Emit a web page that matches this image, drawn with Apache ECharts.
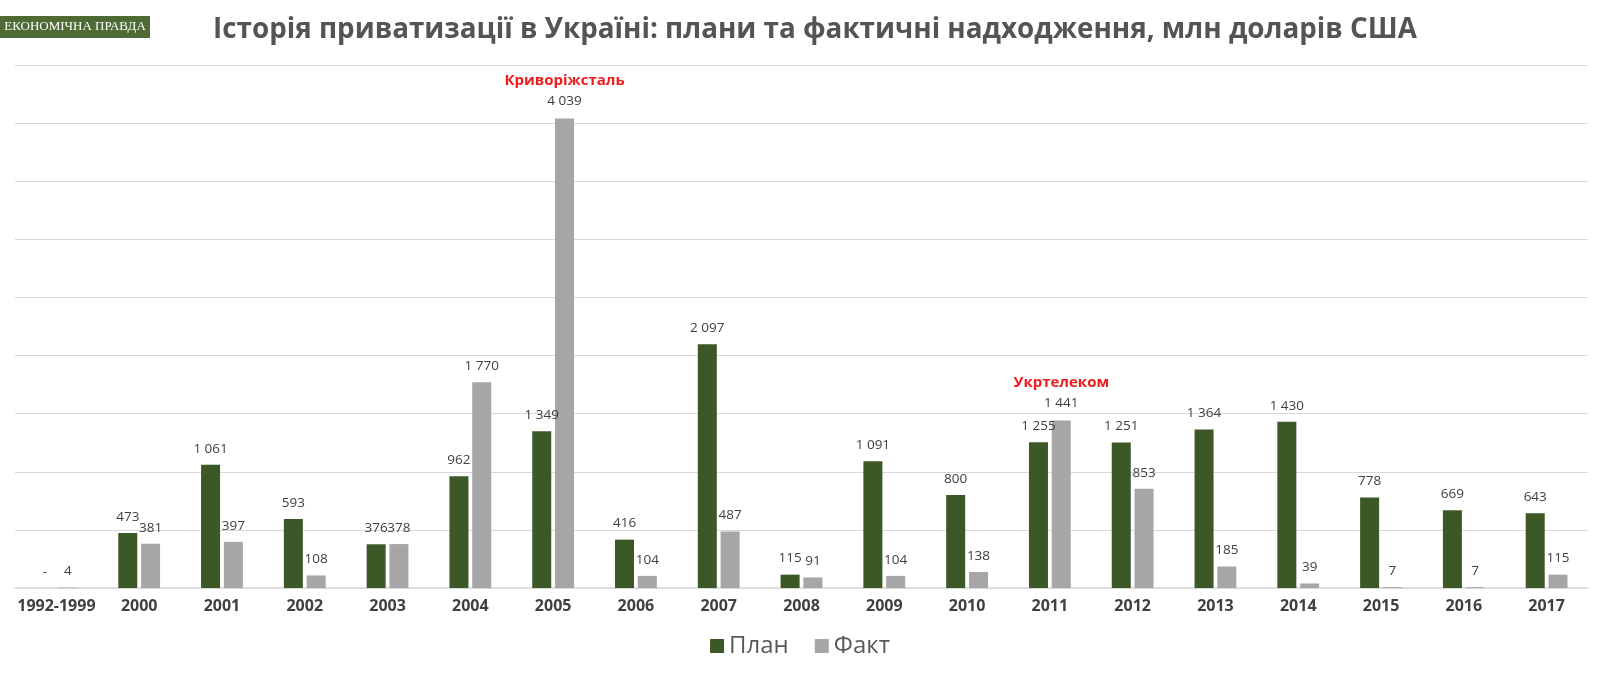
<!DOCTYPE html>
<html>
<head>
<meta charset="utf-8">
<script src="https://cdn.jsdelivr.net/npm/echarts@6/dist/echarts.min.js"></script>
<style>
  html, body { margin: 0; padding: 0; background: #fff; }
  #chart { width: 1600px; height: 675px; }
</style>
</head>
<body>
<div id="chart"></div>
<script>
const years = ["1992-1999", "2000", "2001", "2002", "2003", "2004", "2005", "2006", "2007", "2008",
  "2009", "2010", "2011", "2012", "2013", "2014", "2015", "2016", "2017"];
const planValues = [0, 473, 1061, 593, 376, 962, 1349, 416, 2097, 115, 1091, 800, 1255, 1251, 1364, 1430, 778, 669, 643];
const factValues = [4, 381, 397, 108, 378, 1770, 4039, 104, 487, 91, 104, 138, 1441, 853, 185, 39, 7, 7, 115];
// підписи над окремими стовпчиками
const notes = { "2005": "Криворіжсталь", "2011": "Укртелеком" };

const GREEN = "#3b5826";
const GREY = "#a6a6a6";
const FONT = "'Open Sans', 'Noto Sans', sans-serif";

const fmt = (v) => (v === 0 ? "-" : String(v).replace(/\B(?=(\d{3})+(?!\d))/g, " "));

const labelBase = {
  show: true,
  position: "top",
  distance: 9,
  color: "#404040",
  fontSize: 13.5,
  fontFamily: FONT,
  formatter: (p) => fmt(p.value)
};

const factData = factValues.map((v, i) => {
  const note = notes[years[i]];
  if (!note) return v;
  return {
    value: v,
    label: {
      formatter: (p) => "{n|" + note + "}\n{v|" + fmt(p.value) + "}",
      rich: {
        n: { color: "#ee1c1c", fontWeight: "bold", fontSize: 15, fontFamily: FONT, lineHeight: 26 },
        v: { color: "#404040", fontSize: 13.5, fontFamily: FONT, lineHeight: 16 }
      }
    }
  };
});

const chart = echarts.init(document.getElementById("chart"));
chart.setOption({
  animation: false,
  backgroundColor: "#fff",
  title: {
    text: "Історія приватизації в Україні: плани та фактичні надходження, млн доларів США",
    left: 810,
    top: 11,
    textAlign: "center",
    textStyle: { color: "#545454", fontSize: 27.8, fontWeight: "bold", fontFamily: FONT }
  },
  graphic: [
    {
      type: "group",
      left: 0,
      top: 16,
      children: [
        { type: "rect", shape: { x: 0, y: 0, width: 150, height: 22 }, style: { fill: "#4e6b36" } },
        {
          type: "text",
          x: 75, y: 11,
          style: {
            text: "ЕКОНОМІЧНА ПРАВДА",
            fill: "#fff",
            font: "13px 'Liberation Serif', 'DejaVu Serif', serif",
            align: "center",
            verticalAlign: "middle"
          }
        }
      ]
    }
  ],
  legend: {
    data: ["План", "Факт"],
    bottom: 12,
    left: "center",
    icon: "rect",
    itemWidth: 14,
    itemHeight: 14,
    itemGap: 26,
    textStyle: { color: "#595959", fontSize: 24, fontFamily: FONT }
  },
  grid: { left: 15, right: 12, top: 65, bottom: 87, containLabel: false },
  xAxis: {
    type: "category",
    data: years,
    axisTick: { show: false },
    axisLine: { lineStyle: { color: "#d9d9d9", width: 1.5 } },
    axisLabel: { interval: 0, color: "#404040", fontSize: 16, fontWeight: "bold", fontFamily: FONT, margin: 10 }
  },
  yAxis: {
    type: "value",
    min: 0,
    max: 4500,
    interval: 500,
    axisLabel: { show: false },
    axisLine: { show: false },
    axisTick: { show: false },
    splitLine: { lineStyle: { color: "#d9d9d9", width: 1.2 } }
  },
  series: [
    {
      name: "План",
      type: "bar",
      data: planValues,
      barWidth: 19,
      barGap: "20%",
      itemStyle: { color: GREEN },
      label: labelBase
    },
    {
      name: "Факт",
      type: "bar",
      data: factData,
      barWidth: 19,
      itemStyle: { color: GREY },
      label: labelBase
    }
  ]
});
</script>
</body>
</html>
